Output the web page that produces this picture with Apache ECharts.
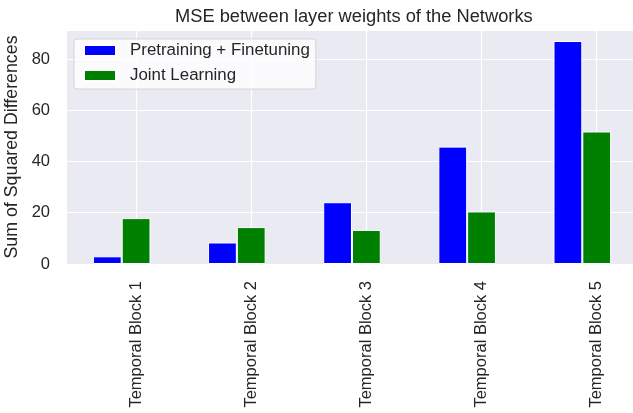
<!DOCTYPE html>
<html>
<head>
<meta charset="utf-8">
<script src="https://cdn.jsdelivr.net/npm/echarts@6/dist/echarts.min.js"></script>
<style>
  html, body { margin: 0; padding: 0; background: #fff; }
  #main { width: 633px; height: 413px; }
</style>
</head>
<body>
<div id="main"></div>
<script>
// data
var categories = ['Temporal Block 1', 'Temporal Block 2', 'Temporal Block 3', 'Temporal Block 4', 'Temporal Block 5'];
var pretrainFinetune = [3.0, 8.4, 24.1, 45.8, 87.0];
var jointLearning = [17.9, 14.4, 13.3, 20.5, 51.7];
var yTicks = [0, 20, 40, 60, 80];

// bars like matplotlib: blue at x - w, green at x (ticks sit on the green bars)
var w = 0.25;
var idx = categories.map(function (c, i) { return i; });

var font = 'Liberation Sans, Arial, sans-serif';
var textColor = '#262626';

var myChart = echarts.init(document.getElementById('main'));
var option = {
    animation: false,
    backgroundColor: '#ffffff',
    title: {
        text: 'MSE between layer weights of the Networks',
        left: 170,
        top: 3,
        textStyle: { fontFamily: font, fontSize: 18.3, fontWeight: 'normal', color: textColor }
    },
    legend: {
        left: 74,
        top: 39,
        orient: 'vertical',
        data: ['Pretraining + Finetuning', 'Joint Learning'],
        icon: 'rect',
        itemWidth: 32,
        itemHeight: 11,
        itemGap: 8,
        padding: [3, 6, 5, 9],
        backgroundColor: 'rgba(255,255,255,0.8)',
        borderColor: '#d5d5d5',
        borderWidth: 1,
        borderRadius: 3,
        textStyle: { fontFamily: font, fontSize: 16.9, color: textColor, lineHeight: 17, padding: [0, 0, 0, 9] }
    },
    grid: {
        left: 67,
        top: 30,
        width: 570,
        bottom: 149,
        show: true,
        backgroundColor: '#EAEAF2',
        borderWidth: 0,
        outerBoundsMode: 'none',
        containLabel: false
    },
    xAxis: {
        type: 'value',
        min: -0.6,
        max: 4.35,
        axisLine: { show: false },
        axisTick: { show: false, customValues: idx },
        axisLabel: {
            customValues: idx,
            rotate: 90,
            margin: 17,
            fontFamily: font,
            fontSize: 16.5,
            color: textColor,
            formatter: function (v) { return categories[Math.round(v)]; }
        },
        splitLine: { show: true, lineStyle: { color: '#ffffff', width: 1.2 } }
    },
    yAxis: {
        type: 'value',
        min: yTicks[0],
        max: 91.3,
        interval: 20,
        name: 'Sum of Squared Differences',
        nameLocation: 'middle',
        nameRotate: 90,
        nameGap: 42,
        nameTextStyle: { fontFamily: font, fontSize: 17.8, color: textColor },
        axisLine: { show: false },
        axisTick: { show: false },
        axisLabel: {
            margin: 17,
            showMaxLabel: false,
            fontFamily: font,
            fontSize: 16.5,
            color: textColor
        },
        splitLine: { show: true, lineStyle: { color: '#ffffff', width: 1.2 } }
    },
    series: [{
        name: 'Pretraining + Finetuning',
        type: 'bar',
        barWidth: 28.8,
        barGap: '-100%',
        itemStyle: { color: '#0000FF', borderColor: '#ffffff', borderWidth: 1 },
        data: pretrainFinetune.map(function (v, i) { return [i - w, v]; })
    }, {
        name: 'Joint Learning',
        type: 'bar',
        barWidth: 28.8,
        barGap: '-100%',
        itemStyle: { color: '#008000', borderColor: '#ffffff', borderWidth: 1 },
        data: jointLearning.map(function (v, i) { return [i, v]; })
    }]
};
myChart.setOption(option);
</script>
</body>
</html>
